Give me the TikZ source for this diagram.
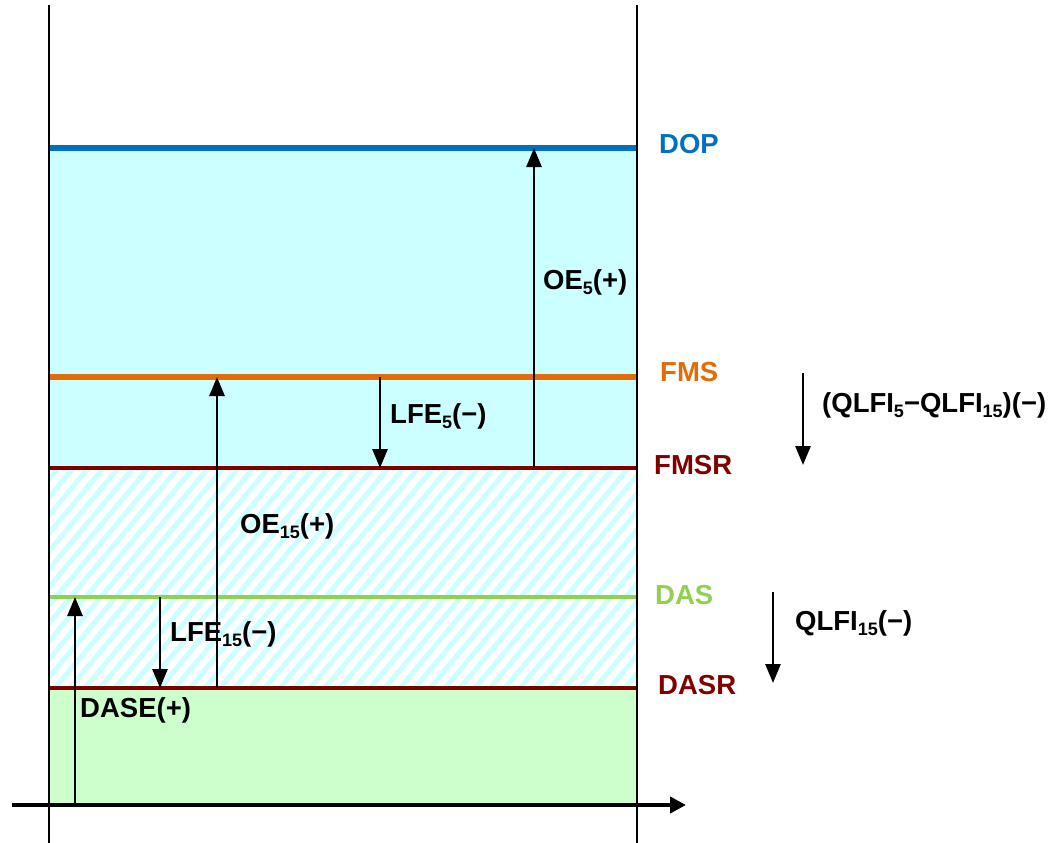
\documentclass[tikz,border=0pt]{standalone}
\usepackage{fontspec}
\setmainfont{Liberation Sans}
\usetikzlibrary{arrows.meta}
\definecolor{dopblue}{HTML}{0070C0}
\definecolor{fmsorange}{HTML}{E36C09}
\definecolor{darkred}{HTML}{800000}
\definecolor{dasgreen}{HTML}{92D050}
\definecolor{lightcyan}{HTML}{CCFFFF}
\definecolor{lightgreen}{HTML}{CCFFCC}
\newcommand{\sbs}[1]{\raisebox{-0.18em}{\fontsize{18}{18}\selectfont #1}}
\tikzset{
  lbl/.style={font=\fontsize{27.5}{31}\selectfont\bfseries, anchor=west, inner sep=0pt},
  arr/.style={line width=2.8pt, -{Triangle[width=15pt,length=19pt]}},
  frame/.style={line width=1.8pt, black},
  level/.style={line width=6.5pt}
}
\begin{document}
\begin{tikzpicture}[x=1pt,y=-1pt]
\useasboundingbox (0,0) rectangle (1050,843);
% fills
\fill[lightcyan] (49,148) rectangle (637,468);
\fill[lightgreen] (49,688) rectangle (637,805);
\begin{scope}
  \clip (49,468) rectangle (637,688);
  \foreach \i in {-240,-225,...,660}
    \draw[lightcyan, line width=5pt] (\i,700) -- (\i+200,460);
\end{scope}
% levels
\draw[level, dopblue] (49,148) -- (637,148);
\draw[level, fmsorange] (49,377) -- (637,377);
\draw[line width=4.5pt, darkred] (49,468) -- (637,468);
\draw[line width=4.5pt, dasgreen] (49,597) -- (637,597);
\draw[line width=4.5pt, darkred] (49,688) -- (637,688);
% frame
\draw[frame] (49,5) -- (49,843);
\draw[frame] (637,5) -- (637,843);
\coordinate (ax0) at (12,805);
\coordinate (ax1) at (686,805);
\draw[line width=4.5pt, -{Triangle[width=16pt,length=16pt]}] (ax0) -- (ax1);
% arrow coordinates
\coordinate (dase0) at (75,805);   \coordinate (dase1) at (75,597);
\coordinate (lfe150) at (160,597); \coordinate (lfe151) at (160,688);
\coordinate (oe150) at (217,688);  \coordinate (oe151) at (217,377);
\coordinate (lfe50) at (380,377);  \coordinate (lfe51) at (380,468);
\coordinate (oe50) at (534,468);   \coordinate (oe51) at (534,148);
\coordinate (q10) at (803,373);    \coordinate (q11) at (803,465);
\coordinate (q20) at (773,592);    \coordinate (q21) at (773,683);
\draw[arr] (dase0) -- (dase1);
\draw[arr] (lfe150) -- (lfe151);
\draw[arr] (oe150) -- (oe151);
\draw[arr] (lfe50) -- (lfe51);
\draw[arr] (oe50) -- (oe51);
\draw[arr] (q10) -- (q11);
\draw[arr] (q20) -- (q21);
% level labels
\node[lbl, text=dopblue] (dop) at (659,144) {DOP};
\node[lbl, text=fmsorange] (fms) at (660,372) {FMS};
\node[lbl, text=darkred] (fmsr) at (654,465) {FMSR};
\node[lbl, text=dasgreen] (das) at (655,595) {DAS};
\node[lbl, text=darkred] (dasr) at (658,685) {DASR};
% arrow labels
\node[lbl] (oe5) at (543,282) {OE\sbs{5}(+)};
\node[lbl] (lfe5) at (390,416) {LFE\sbs{5}(−)};
\node[lbl] (oe15) at (240,526) {OE\sbs{15}(+)};
\node[lbl] (lfe15) at (170,634) {LFE\sbs{15}(−)};
\node[lbl] (dase) at (80,710) {DASE(+)};
\node[lbl] (q1) at (822,405) {(QLFI\sbs{5}−QLFI\sbs{15})(−)};
\node[lbl] (q2) at (795,623) {QLFI\sbs{15}(−)};
\end{tikzpicture}
\end{document}
